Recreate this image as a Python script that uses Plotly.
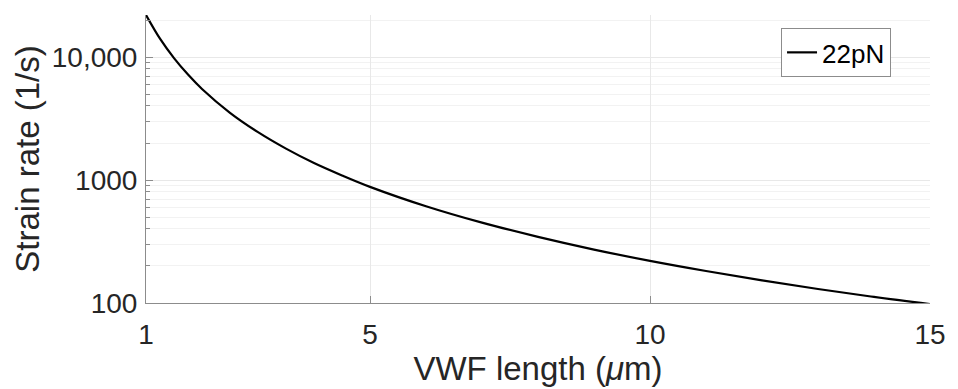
import plotly.graph_objects as go

# VWF length (um) and strain rate (1/s)
vwf_length = [1, 1.25, 1.5, 1.75, 2, 2.5, 3, 3.5, 4, 4.5, 5, 6, 7, 8, 9, 10, 11, 12, 13, 14, 15]
strain_rate = [22000, 14100, 9800, 7200, 5500, 3520, 2450, 1800, 1375, 1090, 880, 612, 450, 345,
               272, 220, 182, 153, 130, 112, 98]
series_name = "22pN"

x_tickvals = [1, 5, 10, 15]
y_tickvals = [100, 1000, 10000]
y_ticktext = ["100", "1000", "10,000"]

FONT = "Arial, 'Liberation Sans', Helvetica, sans-serif"
TXT = "#262626"
AX = "#8c8c8c"

fig = go.Figure()
fig.add_trace(go.Scatter(
    x=vwf_length, y=strain_rate, mode="lines", name=series_name,
    line=dict(color="black", width=2.2, shape="spline"),
    showlegend=True,
))

fig.update_layout(
    width=958, height=389,
    margin=dict(l=146, r=18, t=15, b=85),
    paper_bgcolor="white", plot_bgcolor="white",
    font=dict(family=FONT, color=TXT, size=28),
    showlegend=True,
    legend=dict(
        x=0.81, y=0.955, xanchor="left", yanchor="top",
        bordercolor="#8c8c8c", borderwidth=1, bgcolor="white",
        font=dict(size=26, color="black"), itemwidth=30,
        tracegroupgap=0,
    ),
)

fig.update_xaxes(
    range=[1, 15], tickvals=x_tickvals, ticktext=[str(v) for v in x_tickvals],
    showline=True, linecolor=AX, linewidth=1, mirror=False,
    ticks="inside", ticklen=7, tickcolor=AX,
    showgrid=True, gridcolor="#e8e8e8", gridwidth=1, zeroline=False,
    tickfont=dict(size=28, color=TXT), ticklabelstandoff=6,
    title=dict(text="VWF length (<i>μ</i>m)", font=dict(size=33, color=TXT), standoff=4),
)

fig.update_yaxes(
    type="log", range=[2, 4.342],
    tickvals=y_tickvals, ticktext=y_ticktext,
    showline=True, linecolor=AX, linewidth=1, mirror=False,
    ticks="inside", ticklen=7, tickcolor=AX,
    showgrid=True, gridcolor="#e8e8e8", gridwidth=1, zeroline=False,
    minor=dict(ticks="inside", ticklen=4, tickcolor=AX, showgrid=True,
               gridcolor="#f2f2f2", gridwidth=1, dtick="D1"),
    tickfont=dict(size=28, color=TXT), ticklabelstandoff=2,
    title=dict(text="Strain rate (1/s)", font=dict(size=33, color=TXT), standoff=2),
)

fig.write_html("out.html")
